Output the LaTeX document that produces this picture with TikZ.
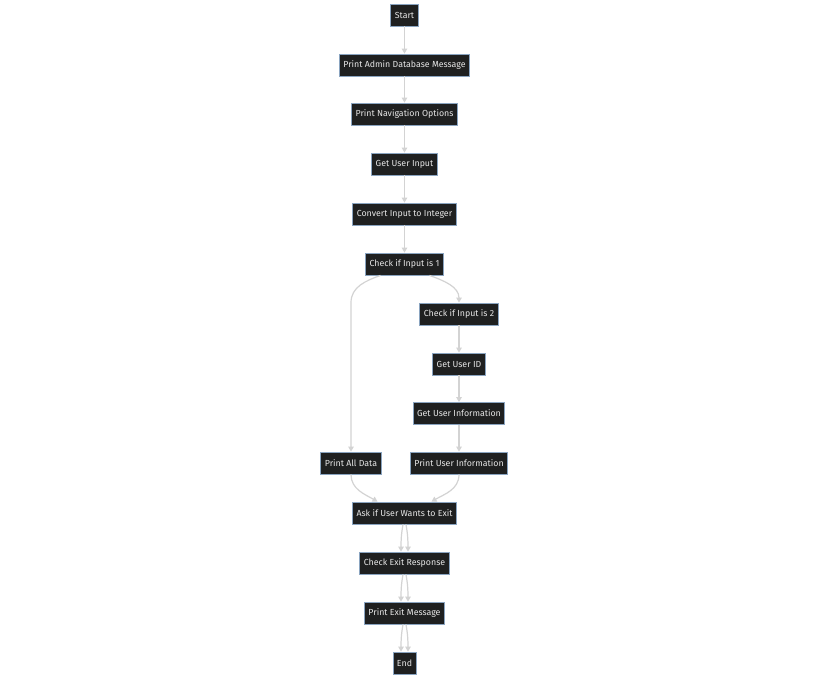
\documentclass[tikz,border=0pt]{standalone}
\usepackage{fontspec}
\setmainfont{Fira Sans}
\usetikzlibrary{arrows.meta,positioning}

\definecolor{boxfill}{HTML}{1F2020}
\definecolor{boxline}{HTML}{8AA4C0}
\definecolor{boxtext}{HTML}{E6E6E6}
\definecolor{edgegray}{HTML}{D3D3D3}

\tikzset{
  box/.style={draw=boxline, fill=boxfill, text=boxtext, line width=0.8pt,
    minimum height=22pt, inner xsep=4pt, inner ysep=0pt,
    font=\fontsize{8.8}{10}\selectfont},
  edge/.style={draw=edgegray, line width=1.2pt,
    -{Triangle[length=5pt,width=5.5pt]}}
}

\begin{document}
\begin{tikzpicture}[x=1pt, y=-1pt]
  \useasboundingbox[fill=white] (0,0) rectangle (828,679);

  % Main column
  \foreach \name/\y/\txt in {start/15/Start, admin/65/Print Admin Database Message,
      navopt/114/Print Navigation Options, getin/164/Get User Input,
      convin/214/Convert Input to Integer, chkone/264/Check if Input is 1,
      askexit/513/Ask if User Wants to Exit, chkexit/563/Check Exit Response,
      prexit/613/Print Exit Message, stop/663/End}
    \node[box] (\name) at (404.5,\y) {\txt};

  % Right branch
  \foreach \name/\y/\txt in {chktwo/314/Check if Input is 2, getid/364/Get User ID,
      getinfo/413.5/Get User Information, prinfo/463/Print User Information}
    \node[box] (\name) at (459,\y) {\txt};

  % Left branch
  \node[box] (prall) at (351,463) {Print All Data};

  % Straight connectors
  \foreach \a/\b in {start/admin, admin/navopt, navopt/getin, getin/convin,
      convin/chkone, chktwo/getid, getid/getinfo, getinfo/prinfo}
    \draw[edge] (\a) -- (\b);

  % Branching
  \draw[edge] ([xshift=-24pt]chkone.south) to[out=-160,in=90] (prall.north |- chktwo.north)
    -- (prall.north);
  \draw[edge] ([xshift=25pt]chkone.south) to[out=-20,in=90] (chktwo.north);

  % Merging
  \draw[edge] (prall.south) to[out=-90,in=150] ([xshift=-27pt]askexit.north);
  \draw[edge] (prinfo.south) to[out=-90,in=30] ([xshift=27pt]askexit.north);

  % Doubled connectors
  \foreach \a/\b in {askexit/chkexit, chkexit/prexit, prexit/stop}
  {
    \draw[edge] ([xshift=-1.5pt]\a.south) to[out=-100,in=90] ([xshift=-3.5pt]\b.north);
    \draw[edge] ([xshift=1.5pt]\a.south) to[out=-80,in=90] ([xshift=3.5pt]\b.north);
  }
\end{tikzpicture}
\end{document}
